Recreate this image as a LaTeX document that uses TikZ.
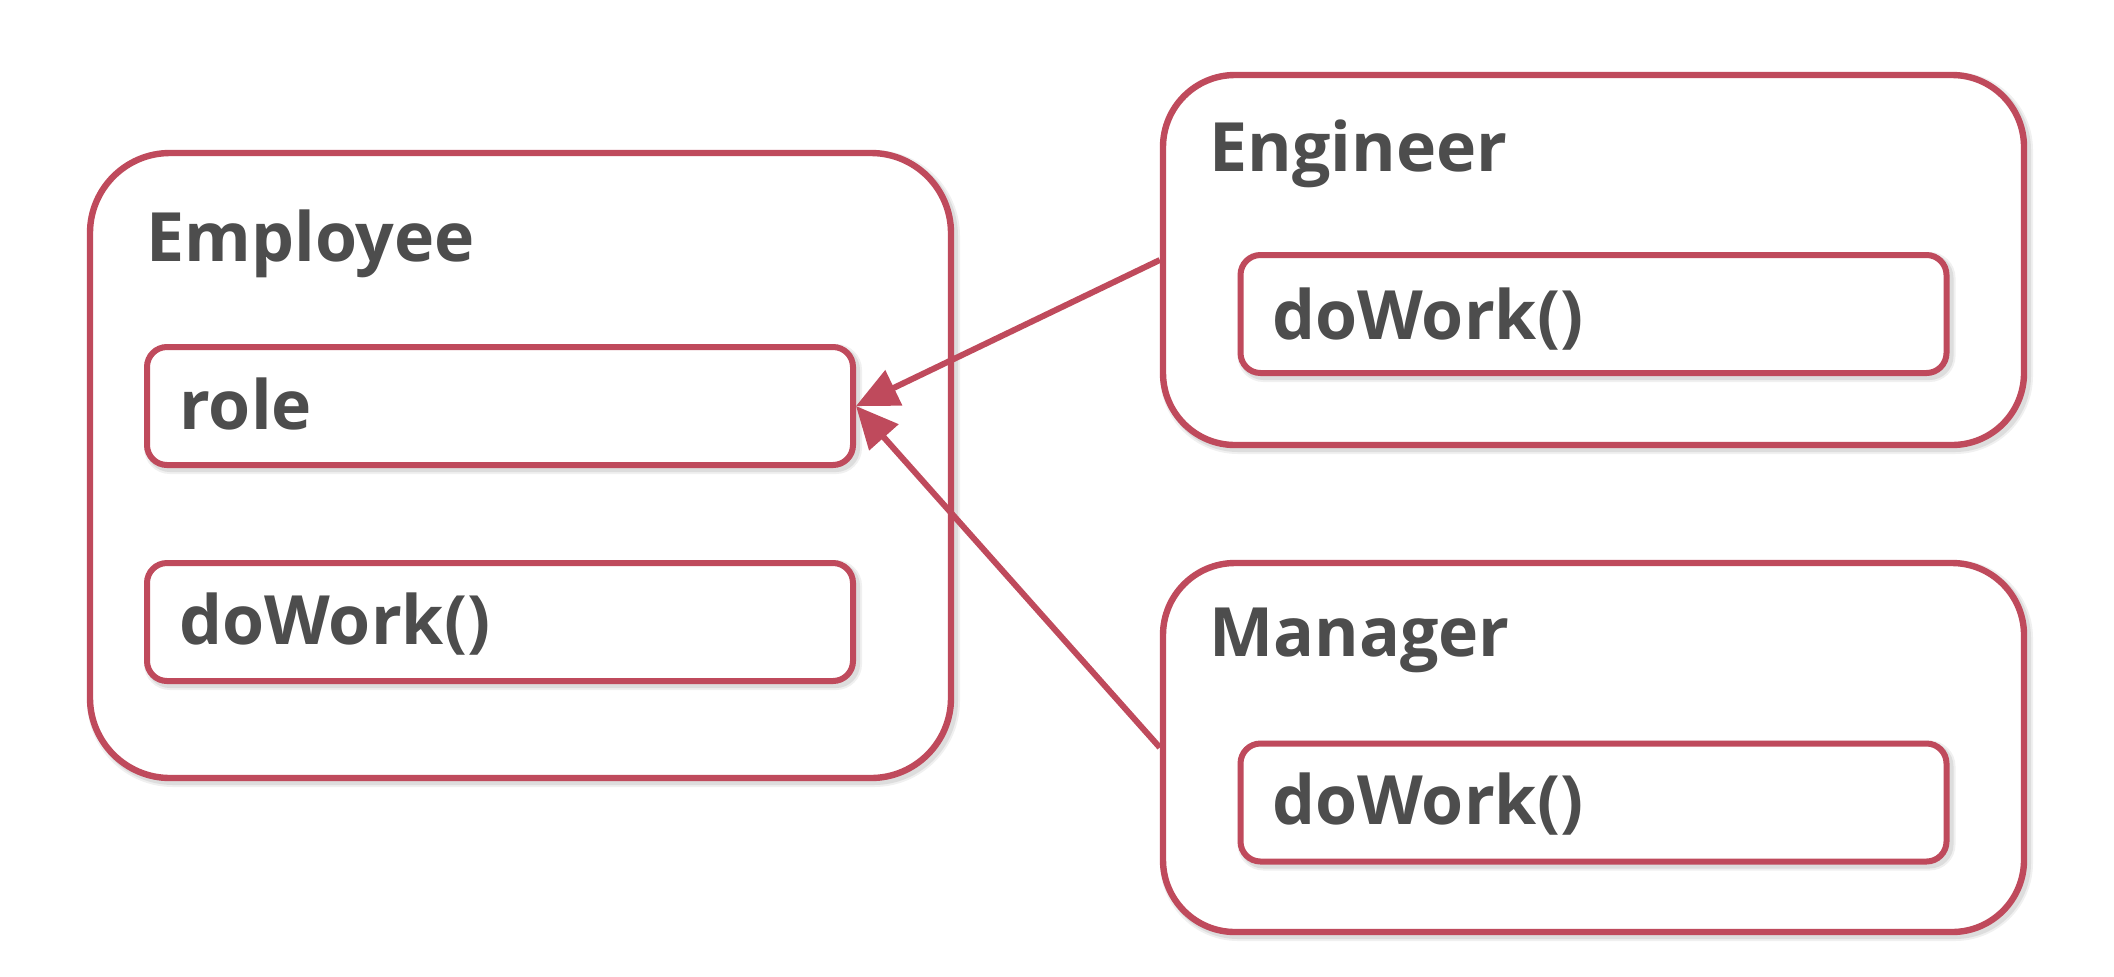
\documentclass[tikz,border=0pt]{standalone}
\usepackage{fontspec}
\setmainfont{Open Sans}
\usetikzlibrary{arrows.meta}
\definecolor{boxred}{RGB}{191,74,92}
\definecolor{txt}{RGB}{77,77,77}
\tikzset{
  softshadow/.style={
    preaction={draw=black, draw opacity=0.06, line width=6pt, transform canvas={shift={(1.5pt,-1.5pt)}}},
    preaction={draw=black, draw opacity=0.08, line width=4pt, transform canvas={shift={(1.5pt,-1.5pt)}}}},
  outerbox/.style={softshadow, draw=boxred, line width=3.2pt, rounded corners=40pt, fill=white, minimum width=430.5pt, inner sep=0pt},
  fieldbox/.style={softshadow, draw=boxred, line width=3pt, rounded corners=10pt, fill=white, minimum width=353pt, minimum height=59pt, inner sep=0pt},
  lbl/.style={anchor=base west, inner sep=0pt, text=txt, font=\fontsize{34}{40}\selectfont\bfseries},
  link/.style={draw=boxred, line width=3pt, -{Triangle[length=21pt,width=19pt]}}
}
\begin{document}
\begin{tikzpicture}[x=0.5pt,y=-0.5pt]
\useasboundingbox (0,0) rectangle (2114,976);
% containers
\node[outerbox, minimum height=312.5pt] (emp) at (520.5,465.5) {};
\node[outerbox, minimum height=185pt, rounded corners=36pt] (eng) at (1593.5,260) {};
\node[outerbox, minimum height=184.5pt, rounded corners=36pt] (man) at (1593.5,747.5) {};
% fields
\node[fieldbox] (role) at (500,406) {};
\node[fieldbox] (empwork) at (500,622) {};
\node[fieldbox] (engwork) at (1593.5,314) {};
\node[fieldbox] (manwork) at (1593.5,802.5) {};
% labels
\node[lbl] (empt) at (146,261) {Employee};
\node[lbl] (engt) at (1209,171) {Engineer};
\node[lbl] (mant) at (1209,656) {Manager};
\node[lbl] (rolet) at (179,429) {role};
\node[lbl] (empworkt) at (179,644) {doWork()};
\node[lbl] (engworkt) at (1272,339) {doWork()};
\node[lbl] (manworkt) at (1272,824) {doWork()};
% connectors
\draw[link] (eng.west) -- (role.east);
\draw[link] (man.west) -- (role.east);
\end{tikzpicture}
\end{document}
